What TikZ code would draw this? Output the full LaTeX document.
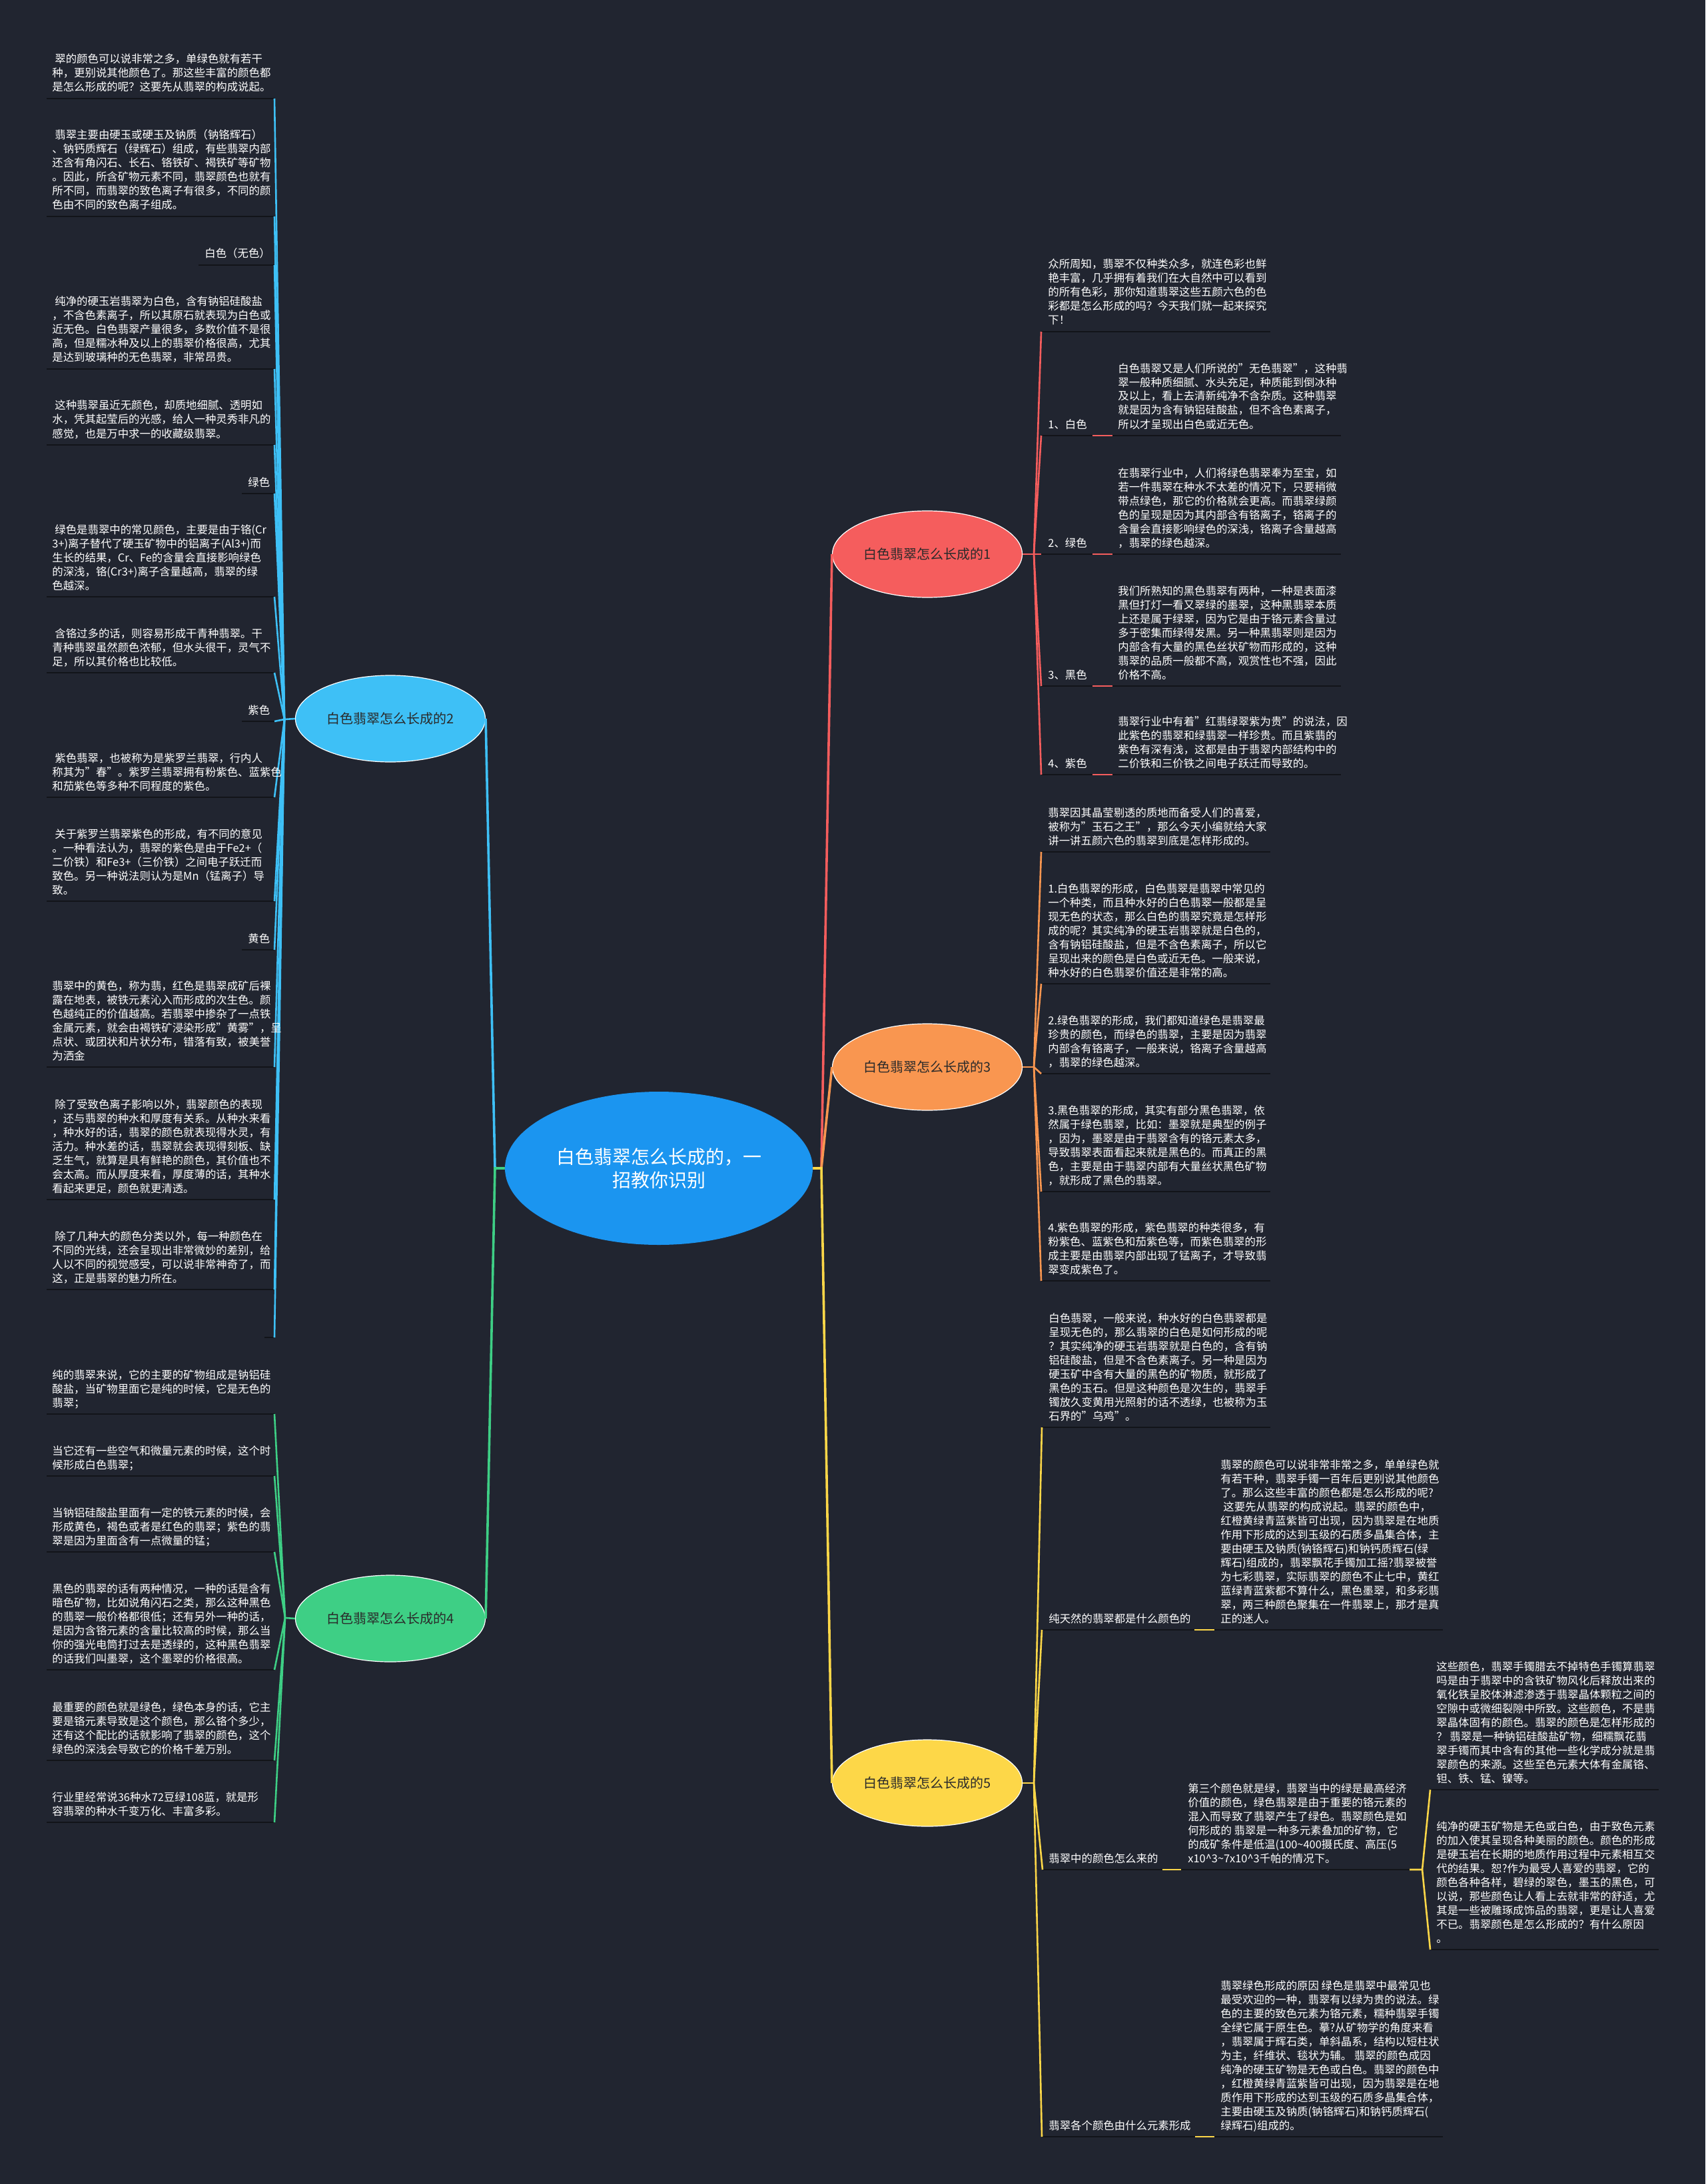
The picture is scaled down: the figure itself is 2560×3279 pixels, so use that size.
\documentclass[tikz,border=0pt]{standalone}
\usepackage{fontspec}
\setmainfont{Noto Sans CJK SC}
\usetikzlibrary{shapes.geometric}
\definecolor{bgc}{HTML}{212530}
\definecolor{rootc}{HTML}{1B95F0}
\definecolor{redc}{HTML}{F55D5D}
\definecolor{orc}{HTML}{F99650}
\definecolor{yec}{HTML}{FDD748}
\definecolor{lbc}{HTML}{3EC0F6}
\definecolor{grc}{HTML}{3ECF85}
\definecolor{ulc}{HTML}{121419}
\definecolor{ntc}{HTML}{2A2A2A}
\newcommand\ind{\hspace*{2pt}}
\newcommand\myul[4]{\draw[ulst] (#2,#4) coordinate (#1l) -- (#3,#4) coordinate (#1r);}
\tikzset{
  txt/.style={anchor=base west, inner sep=0pt, align=left, text=white, font=\fontsize{8.2pt}{10.5pt}\selectfont},
  ulst/.style={draw=ulc, line width=1.3pt},
  bnode/.style={ellipse, minimum width=142.5pt, minimum height=65pt, inner sep=0pt, draw=white, line width=0.6pt, text=ntc, font=\fontsize{10pt}{12pt}\selectfont},
  conn/.style={line width=1.3pt},
  mainc/.style={line width=1.8pt},
}
\begin{document}
\begin{tikzpicture}[x=0.5pt,y=-0.5pt]
\useasboundingbox (0,0) rectangle (2560,3279);
\fill[bgc] (0,0) rectangle (2560,3279);

% ---------- underlines ----------
% blue branch
\myul{a}{70}{412}{148}
\myul{b}{70}{412}{325}
\myul{c}{298}{412}{398}
\myul{d}{70}{412}{554}
\myul{e}{70}{412}{668}
\myul{f}{363}{412}{741}
\myul{g}{70}{412}{896}
\myul{h}{70}{412}{1010}
\myul{i}{363}{412}{1083}
\myul{j}{70}{412}{1197}
\myul{k}{70}{412}{1353}
\myul{l}{363}{412}{1426}
\myul{m}{70}{412}{1602}
\myul{n}{70}{412}{1801}
\myul{o}{70}{412}{1936}
\myul{p}{397}{412}{2008}
% green branch
\myul{ga}{70}{412}{2123}
\myul{gb}{70}{412}{2216}
\myul{gc}{70}{412}{2330}
\myul{gd}{70}{412}{2507}
\myul{ge}{70}{412}{2643}
\myul{gf}{70}{412}{2736}
% red branch
\myul{ra}{1563}{1907}{498}
\myul{rb}{1563}{1640}{654}
\myul{rbc}{1670}{2013}{654}
\myul{rc}{1563}{1640}{832}
\myul{rcc}{1670}{2013}{832}
\myul{rd}{1563}{1640}{1030}
\myul{rdc}{1670}{2013}{1030}
\myul{re}{1563}{1640}{1163}
\myul{rec}{1670}{2013}{1163}
% orange branch
\myul{oa}{1563}{1907}{1279}
\myul{ob}{1563}{1907}{1477}
\myul{oc}{1563}{1907}{1612}
\myul{od}{1563}{1907}{1789}
\myul{oe}{1563}{1907}{1923}
% yellow branch
\myul{ya}{1564}{1907}{2143}
\myul{yb}{1564}{1793}{2447}
\myul{ybc}{1823}{2166}{2447}
\myul{yc}{1565}{1745}{2807}
\myul{ycc}{1773}{2116}{2807}
\myul{yga}{2147}{2490}{2687}
\myul{ygb}{2147}{2490}{2927}
\myul{yd}{1564}{1794}{3208}
\myul{ydc}{1823}{2166}{3208}

% ---------- main nodes ----------
\node[ellipse, fill=rootc, minimum width=231pt, minimum height=115pt, inner sep=0pt, text=white, align=center, font=\fontsize{14pt}{17.5pt}\selectfont] (root) at (989,1754) {白色翡翠怎么长成的，一\\招教你识别};
\node[bnode, fill=redc] (b1) at (1392,832) {白色翡翠怎么长成的1};
\node[bnode, fill=orc] (b3) at (1392,1602) {白色翡翠怎么长成的3};
\node[bnode, fill=yec] (b5) at (1392,2677) {白色翡翠怎么长成的5};
\node[bnode, fill=lbc] (b2) at (586,1079) {白色翡翠怎么长成的2};
\node[bnode, fill=grc] (b4) at (586,2430) {白色翡翠怎么长成的4};

% ---------- junction coordinates ----------
\coordinate (rj) at (1233,1754);
\coordinate (lj) at (743,1754);
\coordinate (j1) at (1552,832);
\coordinate (j3) at (1552,1602);
\coordinate (j5) at (1552,2677);
\coordinate (j2) at (427,1080);
\coordinate (j4) at (428,2429);
\coordinate (jy) at (2135,2807);

% ---------- root connectors ----------
\draw[mainc, redc] (root.east) -- (rj) -- (b1.west);
\draw[mainc, orc] (root.east) -- (rj) -- (b3.west);
\draw[mainc, yec] (root.east) -- (rj) -- (b5.west);
\draw[mainc, lbc] (root.west) -- (lj) -- (b2.east);
\draw[mainc, grc] (root.west) -- (lj) -- (b4.east);

% ---------- branch connectors ----------
\draw[conn, lbc] (b2.west) -- (j2);
\foreach \t in {a,b,c,d,e,f,g,h,i,j,k,l,m,n,o,p} {\draw[conn, lbc] (j2) -- (\t r);}
\draw[conn, grc] (b4.west) -- (j4);
\foreach \t in {ga,gb,gc,gd,ge,gf} {\draw[conn, grc] (j4) -- (\t r);}
\draw[conn, redc] (b1.east) -- (j1);
\foreach \t in {ra,rb,rc,rd,re} {\draw[conn, redc] (j1) -- (\t l);}
\foreach \t in {rb,rc,rd,re} {\draw[conn, redc] (\t r) -- (\t cl);}
\draw[conn, orc] (b3.east) -- (j3);
\foreach \t in {oa,ob,oc,od,oe} {\draw[conn, orc] (j3) -- (\t l);}
\draw[conn, yec] (b5.east) -- (j5);
\foreach \t in {ya,yb,yc,yd} {\draw[conn, yec] (j5) -- (\t l);}
\foreach \t in {yb,yc,yd} {\draw[conn, yec] (\t r) -- (\t cl);}
\draw[conn, yec] (yccr) -- (jy) -- (ygal);
\draw[conn, yec] (jy) -- (ygbl);

% ---------- blue branch texts ----------
\node[txt] (ta) at (78,137) {\ind 翠的颜色可以说非常之多，单绿色就有若干\\种，更别说其他颜色了。那这些丰富的颜色都\\是怎么形成的呢？这要先从翡翠的构成说起。};
\node[txt] (tb) at (78,314) {\ind 翡翠主要由硬玉或硬玉及钠质（钠铬辉石）\\、钠钙质辉石（绿辉石）组成，有些翡翠内部\\还含有角闪石、长石、铬铁矿、褐铁矿等矿物\\。因此，所含矿物元素不同，翡翠颜色也就有\\所不同，而翡翠的致色离子有很多，不同的颜\\色由不同的致色离子组成。};
\node[txt] (tc) at (307,387) {白色（无色）};
\node[txt] (td) at (78,543) {\ind 纯净的硬玉岩翡翠为白色，含有钠铝硅酸盐\\，不含色素离子，所以其原石就表现为白色或\\近无色。白色翡翠产量很多，多数价值不是很\\高，但是糯冰种及以上的翡翠价格很高，尤其\\是达到玻璃种的无色翡翠，非常昂贵。};
\node[txt] (te) at (78,657) {\ind 这种翡翠虽近无颜色，却质地细腻、透明如\\水，凭其起莹后的光感，给人一种灵秀非凡的\\感觉，也是万中求一的收藏级翡翠。};
\node[txt] (tf) at (372,730) {绿色};
\node[txt] (tg) at (78,885) {\ind 绿色是翡翠中的常见颜色，主要是由于铬(Cr\\3+)离子替代了硬玉矿物中的铝离子(Al3+)而\\生长的结果，Cr、Fe的含量会直接影响绿色\\的深浅，铬(Cr3+)离子含量越高，翡翠的绿\\色越深。};
\node[txt] (th) at (78,999) {\ind 含铬过多的话，则容易形成干青种翡翠。干\\青种翡翠虽然颜色浓郁，但水头很干，灵气不\\足，所以其价格也比较低。};
\node[txt] (ti) at (372,1072) {紫色};
\node[txt] (tj) at (78,1186) {\ind 紫色翡翠，也被称为是紫罗兰翡翠，行内人\\称其为"春"。紫罗兰翡翠拥有粉紫色、蓝紫色\\和茄紫色等多种不同程度的紫色。};
\node[txt] (tk) at (78,1342) {\ind 关于紫罗兰翡翠紫色的形成，有不同的意见\\。一种看法认为，翡翠的紫色是由于Fe2+（\\二价铁）和Fe3+（三价铁）之间电子跃迁而\\致色。另一种说法则认为是Mn（锰离子）导\\致。};
\node[txt] (tl) at (372,1415) {黄色};
\node[txt] (tm) at (78,1591) {翡翠中的黄色，称为翡，红色是翡翠成矿后裸\\露在地表，被铁元素沁入而形成的次生色。颜\\色越纯正的价值越高。若翡翠中掺杂了一点铁\\金属元素，就会由褐铁矿浸染形成"黄雾"，呈\\点状、或团状和片状分布，错落有致，被美誉\\为洒金};
\node[txt] (tn) at (78,1790) {\ind 除了受致色离子影响以外，翡翠颜色的表现\\，还与翡翠的种水和厚度有关系。从种水来看\\，种水好的话，翡翠的颜色就表现得水灵，有\\活力。种水差的话，翡翠就会表现得刻板、缺\\乏生气，就算是具有鲜艳的颜色，其价值也不\\会太高。而从厚度来看，厚度薄的话，其种水\\看起来更足，颜色就更清透。};
\node[txt] (to) at (78,1925) {\ind 除了几种大的颜色分类以外，每一种颜色在\\不同的光线，还会呈现出非常微妙的差别，给\\人以不同的视觉感受，可以说非常神奇了，而\\这，正是翡翠的魅力所在。};

% ---------- green branch texts ----------
\node[txt] (tga) at (78,2112) {纯的翡翠来说，它的主要的矿物组成是钠铝硅\\酸盐，当矿物里面它是纯的时候，它是无色的\\翡翠；};
\node[txt] (tgb) at (78,2205) {当它还有一些空气和微量元素的时候，这个时\\候形成白色翡翠；};
\node[txt] (tgc) at (78,2319) {当钠铝硅酸盐里面有一定的铁元素的时候，会\\形成黄色，褐色或者是红色的翡翠；紫色的翡\\翠是因为里面含有一点微量的锰；};
\node[txt] (tgd) at (78,2496) {黑色的翡翠的话有两种情况，一种的话是含有\\暗色矿物，比如说角闪石之类，那么这种黑色\\的翡翠一般价格都很低；还有另外一种的话，\\是因为含铬元素的含量比较高的时候，那么当\\你的强光电筒打过去是透绿的，这种黑色翡翠\\的话我们叫墨翠，这个墨翠的价格很高。};
\node[txt] (tge) at (78,2632) {最重要的颜色就是绿色，绿色本身的话，它主\\要是铬元素导致是这个颜色，那么铬个多少，\\还有这个配比的话就影响了翡翠的颜色，这个\\绿色的深浅会导致它的价格千差万别。};
\node[txt] (tgf) at (78,2725) {行业里经常说36种水72豆绿108蓝，就是形\\容翡翠的种水千变万化、丰富多彩。};

% ---------- red branch texts ----------
\node[txt] (tra) at (1573,487) {众所周知，翡翠不仅种类众多，就连色彩也鲜\\艳丰富，几乎拥有着我们在大自然中可以看到\\的所有色彩，那你知道翡翠这些五颜六色的色\\彩都是怎么形成的吗？今天我们就一起来探究\\下！};
\node[txt] (trb) at (1573,643) {1、白色};
\node[txt] (trbc) at (1678,643) {白色翡翠又是人们所说的"无色翡翠"，这种翡\\翠一般种质细腻、水头充足，种质能到倒冰种\\及以上，看上去清新纯净不含杂质。这种翡翠\\就是因为含有钠铝硅酸盐，但不含色素离子，\\所以才呈现出白色或近无色。};
\node[txt] (trc) at (1573,821) {2、绿色};
\node[txt] (trcc) at (1678,821) {在翡翠行业中，人们将绿色翡翠奉为至宝，如\\若一件翡翠在种水不太差的情况下，只要稍微\\带点绿色，那它的价格就会更高。而翡翠绿颜\\色的呈现是因为其内部含有铬离子，铬离子的\\含量会直接影响绿色的深浅，铬离子含量越高\\，翡翠的绿色越深。};
\node[txt] (trd) at (1573,1019) {3、黑色};
\node[txt] (trdc) at (1678,1019) {我们所熟知的黑色翡翠有两种，一种是表面漆\\黑但打灯一看又翠绿的墨翠，这种黑翡翠本质\\上还是属于绿翠，因为它是由于铬元素含量过\\多于密集而绿得发黑。另一种黑翡翠则是因为\\内部含有大量的黑色丝状矿物而形成的，这种\\翡翠的品质一般都不高，观赏性也不强，因此\\价格不高。};
\node[txt] (tre) at (1573,1152) {4、紫色};
\node[txt] (trec) at (1678,1152) {翡翠行业中有着"红翡绿翠紫为贵"的说法，因\\此紫色的翡翠和绿翡翠一样珍贵。而且紫翡的\\紫色有深有浅，这都是由于翡翠内部结构中的\\二价铁和三价铁之间电子跃迁而导致的。};

% ---------- orange branch texts ----------
\node[txt] (toa) at (1573,1268) {翡翠因其晶莹剔透的质地而备受人们的喜爱，\\被称为"玉石之王"，那么今天小编就给大家\\讲一讲五颜六色的翡翠到底是怎样形成的。};
\node[txt] (tob) at (1573,1466) {1.白色翡翠的形成，白色翡翠是翡翠中常见的\\一个种类，而且种水好的白色翡翠一般都是呈\\现无色的状态，那么白色的翡翠究竟是怎样形\\成的呢？其实纯净的硬玉岩翡翠就是白色的，\\含有钠铝硅酸盐，但是不含色素离子，所以它\\呈现出来的颜色是白色或近无色。一般来说，\\种水好的白色翡翠价值还是非常的高。};
\node[txt] (toc) at (1573,1601) {2.绿色翡翠的形成，我们都知道绿色是翡翠最\\珍贵的颜色，而绿色的翡翠，主要是因为翡翠\\内部含有铬离子，一般来说，铬离子含量越高\\，翡翠的绿色越深。};
\node[txt] (tod) at (1573,1778) {3.黑色翡翠的形成，其实有部分黑色翡翠，依\\然属于绿色翡翠，比如：墨翠就是典型的例子\\，因为，墨翠是由于翡翠含有的铬元素太多，\\导致翡翠表面看起来就是黑色的。而真正的黑\\色，主要是由于翡翠内部有大量丝状黑色矿物\\，就形成了黑色的翡翠。};
\node[txt] (toe) at (1573,1912) {4.紫色翡翠的形成，紫色翡翠的种类很多，有\\粉紫色、蓝紫色和茄紫色等，而紫色翡翠的形\\成主要是由翡翠内部出现了锰离子，才导致翡\\翠变成紫色了。};

% ---------- yellow branch texts ----------
\node[txt] (tya) at (1574,2132) {白色翡翠，一般来说，种水好的白色翡翠都是\\呈现无色的，那么翡翠的白色是如何形成的呢\\？其实纯净的硬玉岩翡翠就是白色的，含有钠\\铝硅酸盐，但是不含色素离子。另一种是因为\\硬玉矿中含有大量的黑色的矿物质，就形成了\\黑色的玉石。但是这种颜色是次生的，翡翠手\\镯放久变黄用光照射的话不透绿，也被称为玉\\石界的"乌鸡"。};
\node[txt] (tyb) at (1574,2436) {纯天然的翡翠都是什么颜色的};
\node[txt] (tybc) at (1832,2436) {翡翠的颜色可以说非常非常之多，单单绿色就\\有若干种，翡翠手镯一百年后更别说其他颜色\\了。那么这些丰富的颜色都是怎么形成的呢?\\\ind 这要先从翡翠的构成说起。翡翠的颜色中，\\红橙黄绿青蓝紫皆可出现，因为翡翠是在地质\\作用下形成的达到玉级的石质多晶集合体，主\\要由硬玉及钠质(钠铬辉石)和钠钙质辉石(绿\\辉石)组成的，翡翠飘花手镯加工摇?翡翠被誉\\为七彩翡翠，实际翡翠的颜色不止七中，黄红\\蓝绿青蓝紫都不算什么，黑色墨翠，和多彩翡\\翠，两三种颜色聚集在一件翡翠上，那才是真\\正的迷人。};
\node[txt] (tyc) at (1574,2796) {翡翠中的颜色怎么来的};
\node[txt] (tycc) at (1783,2796) {第三个颜色就是绿，翡翠当中的绿是最高经济\\价值的颜色，绿色翡翠是由于重要的铬元素的\\混入而导致了翡翠产生了绿色。翡翠颜色是如\\何形成的 翡翠是一种多元素叠加的矿物，它\\的成矿条件是低温(100\textasciitilde 400摄氏度、高压(5\\x10\textasciicircum 3\textasciitilde 7x10\textasciicircum 3千帕的情况下。};
\node[txt] (tyga) at (2156,2676) {这些颜色，翡翠手镯腊去不掉特色手镯算翡翠\\吗是由于翡翠中的含铁矿物风化后释放出来的\\氧化铁呈胶体淋滤渗透于翡翠晶体颗粒之间的\\空隙中或微细裂隙中所致。这些颜色，不是翡\\翠晶体固有的颜色。翡翠的颜色是怎样形成的\\？ 翡翠是一种钠铝硅酸盐矿物，细糯飘花翡\\翠手镯而其中含有的其他一些化学成分就是翡\\翠颜色的来源。这些至色元素大体有金属铬、\\钽、铁、锰、镍等。};
\node[txt] (tygb) at (2156,2916) {纯净的硬玉矿物是无色或白色，由于致色元素\\的加入使其呈现各种美丽的颜色。颜色的形成\\是硬玉岩在长期的地质作用过程中元素相互交\\代的结果。恕?作为最受人喜爱的翡翠，它的\\颜色各种各样，碧绿的翠色，墨玉的黑色，可\\以说，那些颜色让人看上去就非常的舒适，尤\\其是一些被雕琢成饰品的翡翠，更是让人喜爱\\不已。翡翠颜色是怎么形成的？有什么原因\\。};
\node[txt] (tyd) at (1574,3197) {翡翠各个颜色由什么元素形成};
\node[txt] (tydc) at (1832,3197) {翡翠绿色形成的原因 绿色是翡翠中最常见也\\最受欢迎的一种，翡翠有以绿为贵的说法。绿\\色的主要的致色元素为铬元素，糯种翡翠手镯\\全绿它属于原生色。摹?从矿物学的角度来看\\，翡翠属于辉石类，单斜晶系，结构以短柱状\\为主，纤维状、毯状为辅。 翡翠的颜色成因\\纯净的硬玉矿物是无色或白色。翡翠的颜色中\\，红橙黄绿青蓝紫皆可出现，因为翡翠是在地\\质作用下形成的达到玉级的石质多晶集合体，\\主要由硬玉及钠质(钠铬辉石)和钠钙质辉石(\\绿辉石)组成的。};
\end{tikzpicture}
\end{document}
